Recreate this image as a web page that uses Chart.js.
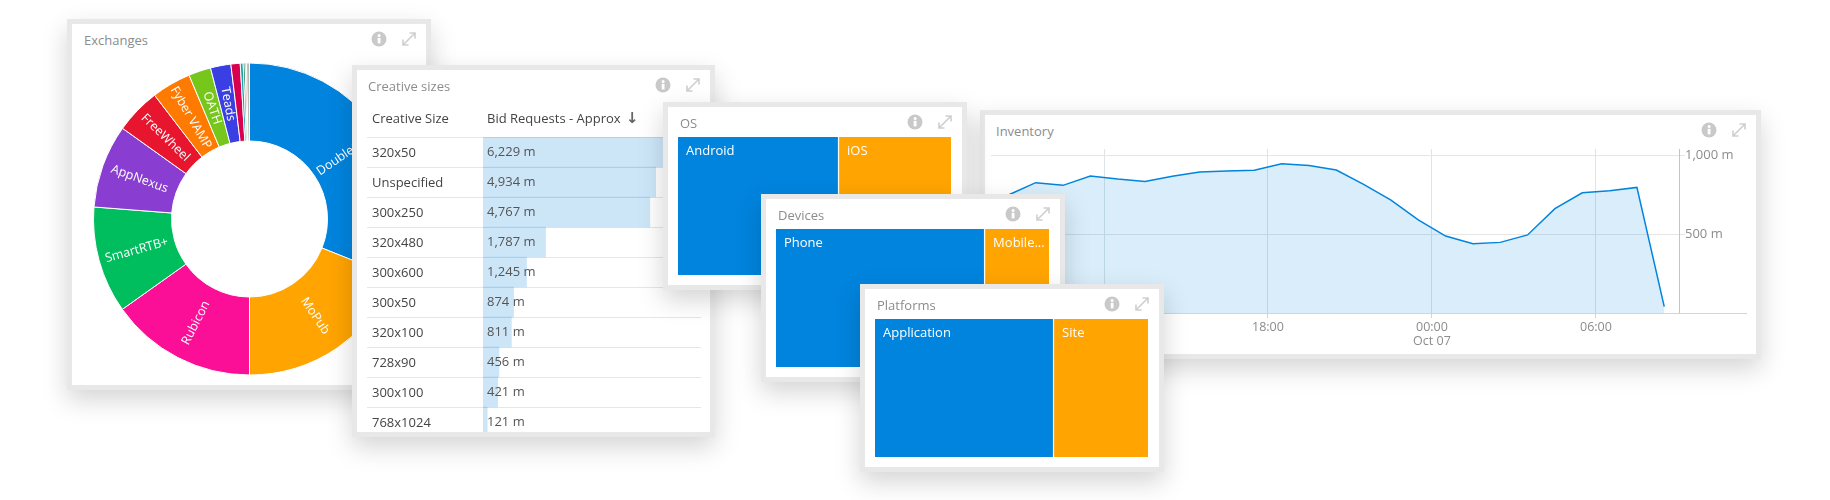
<!DOCTYPE html>
<html>
<head>
<meta charset="utf-8">
<title>Dashboard widgets</title>
<script src="https://cdn.jsdelivr.net/npm/chart.js"></script>
<style>
    html, body { margin: 0; padding: 0; background: #fff; }
    #page { position: relative; width: 1830px; height: 500px; overflow: hidden; font-family: "Open Sans", sans-serif; }
    .panel { position: absolute; box-sizing: border-box; background: #fff; border: 5px solid #e8e8e8; overflow: hidden; box-shadow: 0 10px 24px rgba(0, 0, 0, .17); }
    .panel canvas { position: absolute; }
    .title { position: absolute; left: 12px; top: 5.5px; font-size: 13px; line-height: 20px; color: #8c8c8c; }
    .info { position: absolute; right: 39px; top: 7px; }
    .expand { position: absolute; right: 10px; top: 8px; }
    .head { position: absolute; top: 38px; font-size: 13px; line-height: 20px; color: #444; white-space: nowrap; }
    .arrow { font-family: "DejaVu Sans", sans-serif; font-size: 15px; font-weight: bold; color: #666; margin-left: 2px; }

    #exchanges { left: 67px; top: 19px; width: 364px; height: 371px; z-index: 1; }
    #exchangesChart { left: 21px; top: 38px; }
    #creative { left: 352px; top: 65px; width: 363px; height: 372px; z-index: 2; }
    #creative .title { left: 11px; }
    #creativeChart { left: 0; top: 0; }
    #inventory { left: 980px; top: 110px; width: 781px; height: 249px; z-index: 3; }
    #inventory .title { left: 11px; }
    #inventoryChart { left: 0; top: 0; }
    #os { left: 663px; top: 102px; width: 304px; height: 188px; z-index: 4; }
    #devices { left: 761px; top: 194px; width: 304px; height: 188px; z-index: 5; }
    #platforms { left: 860px; top: 284px; width: 304px; height: 188px; z-index: 6; }
    .tree { left: 10px; top: 30px; }
</style>
</head>
<body>
<div id="page"></div>
<script>
// Exchanges donut
const exchangeNames = ['DoubleClick', 'MoPub', 'Rubicon', 'SmartRTB+', 'AppNexus', 'FreeWheel', 'Fyber VAMP', 'OATH', 'Teads', '', '', '', '', ''];
const exchangeValues = [31.06, 18.94, 15.17, 11.06, 8.64, 4.72, 4.08, 2.31, 2.11, 0.96, 0.3, 0.2, 0.15, 0.3];
const exchangeColors = ['#0084de', '#ffa400', '#fa0f96', '#00bd5e', '#8a3dd1', '#e8152f', '#ff7a00', '#76c61c', '#3a3fe3', '#d8004f', '#17a5a5', '#1b7f55', '#a5673f', '#b9b9b9'];

// Creative sizes table
const creativeSizes = ['320x50', 'Unspecified', '300x250', '320x480', '300x600', '300x50', '320x100', '728x90', '300x100', '768x1024'];
const bidRequests = [6229, 4934, 4767, 1787, 1245, 874, 811, 456, 421, 121];

// Treemaps
const osNames = ['Android', 'iOS'];
const osValues = [59, 41];
const deviceNames = ['Phone', 'Mobile...'];
const deviceValues = [76.6, 23.4];
const platformNames = ['Application', 'Site'];
const platformValues = [65.6, 34.4];

// Inventory line, hours counted from midnight of Oct 06
const inventoryHours = [8.5, 9.5, 10.5, 11.5, 12.5, 13.5, 14.5, 15.5, 16.5, 17.5, 18.5, 19.5, 20.5, 21.5, 22.5, 23.5, 24.5, 25.5, 26.5, 27.5, 28.5, 29.5, 30.5, 31.5, 32.5];
const inventoryValues = [747, 825, 808, 867, 848, 833, 865, 892, 899, 903, 945, 934, 905, 814, 715, 589, 487, 439, 447, 494, 660, 761, 774, 795, 40];
const inventoryTickLabels = { 12: '12:00', 18: '18:00', 24: ['00:00', 'Oct 07'], 30: '06:00' };
const inventoryYTicks = [0, 500, 1000];

const BLUE = '#0084de';
const ORANGE = '#ffa400';
const FONT = '"Open Sans", sans-serif';

Chart.defaults.font.family = FONT;
Chart.defaults.animation = false;
Chart.defaults.responsive = false;
Chart.defaults.plugins.legend.display = false;
Chart.defaults.plugins.tooltip.enabled = false;

const infoIcon = '<svg class="info" width="16" height="16" viewBox="0 0 16 16"><circle cx="8" cy="8" r="7.5" fill="#c9c9c9"/><rect x="6.7" y="6.8" width="2.8" height="5.6" fill="#fff"/><circle cx="8.1" cy="4.6" r="1.5" fill="#fff"/></svg>';
const expandIcon = '<svg class="expand" width="14" height="14" viewBox="0 0 14 14" fill="none" stroke="#cfcfcf" stroke-width="1.6"><path d="M1.5 12.5L12.5 1.5M7.5 1h5.5v5.5M1 7.5V13h5.5"/></svg>';

function addPanel(id, title, canvasId, width, height, canvasClass) {
    const page = document.getElementById('page');
    const panel = document.createElement('div');
    panel.id = id;
    panel.className = 'panel';
    panel.innerHTML = '<div class="title">' + title + '</div>' + infoIcon + expandIcon +
        '<canvas id="' + canvasId + '" width="' + width + '" height="' + height + '"' +
        (canvasClass ? ' class="' + canvasClass + '"' : '') + '></canvas>';
    page.appendChild(panel);
    return document.getElementById(canvasId);
}

// text along the radius of each slice
const sliceLabels = {
    id: 'sliceLabels',
    afterDatasetsDraw(chart) {
        const ctx = chart.ctx;
        chart.getDatasetMeta(0).data.forEach(function(arc, i) {
            if (!exchangeNames[i]) return;
            const mid = (arc.startAngle + arc.endAngle) / 2;
            const r = (arc.innerRadius + arc.outerRadius) / 2;
            ctx.save();
            ctx.translate(arc.x + Math.cos(mid) * r, arc.y + Math.sin(mid) * r);
            ctx.rotate(Math.cos(mid) >= 0 ? mid : mid + Math.PI);
            ctx.font = '12.5px ' + FONT;
            ctx.fillStyle = '#fff';
            ctx.textAlign = 'center';
            ctx.textBaseline = 'middle';
            ctx.fillText(exchangeNames[i], 0, 0);
            ctx.restore();
        });
    }
};

// value text at the start of each table row
const rowValues = {
    id: 'rowValues',
    afterDatasetsDraw(chart) {
        const ctx = chart.ctx;
        const x = chart.scales.x.getPixelForValue(0) + 4;
        ctx.save();
        ctx.font = '13px ' + FONT;
        ctx.fillStyle = '#555';
        ctx.textBaseline = 'middle';
        chart.getDatasetMeta(0).data.forEach(function(bar, i) {
            ctx.fillText(bidRequests[i].toLocaleString('en-US') + ' m', x, bar.y + 0.5);
        });
        ctx.restore();
    }
};

// x axis line runs on past the y axis
const baselineTail = {
    id: 'baselineTail',
    afterDraw(chart) {
        const area = chart.chartArea;
        const ctx = chart.ctx;
        ctx.save();
        ctx.strokeStyle = '#d4d4d4';
        ctx.beginPath();
        ctx.moveTo(area.right, area.bottom + 0.5);
        ctx.lineTo(area.right + 68, area.bottom + 0.5);
        ctx.stroke();
        ctx.restore();
    }
};

function drawTreemap(panelId, title, canvasId, names, values) {
    const canvas = addPanel(panelId, title, canvasId, 273, 138, 'tree');
    const colors = [BLUE, ORANGE];
    new Chart(canvas.getContext('2d'), {
        type: 'bar',
        data: {
            labels: [''],
            datasets: values.map(function(v, i) {
                return {
                    data: [v],
                    backgroundColor: colors[i],
                    borderColor: '#fff',
                    borderWidth: { right: i === 0 ? 1.5 : 0 },
                    borderSkipped: false,
                    barPercentage: 1,
                    categoryPercentage: 1
                };
            })
        },
        options: {
            indexAxis: 'y',
            layout: { padding: 0 },
            scales: {
                x: { display: false, stacked: true, min: 0, max: 100 },
                y: { display: false, stacked: true }
            }
        },
        plugins: [{
            id: 'treeLabels',
            afterDatasetsDraw(chart) {
                const ctx = chart.ctx;
                ctx.save();
                ctx.font = '13px ' + FONT;
                ctx.fillStyle = '#fff';
                ctx.textBaseline = 'middle';
                values.forEach(function(v, i) {
                    ctx.fillText(names[i], chart.scales.x.getPixelForValue(i === 0 ? 0 : values[0]) + 8, chart.chartArea.top + 14.5);
                });
                ctx.restore();
            }
        }]
    });
}

document.addEventListener('DOMContentLoaded', function() {
    // donut
    const exCanvas = addPanel('exchanges', 'Exchanges', 'exchangesChart', 313, 314);
    new Chart(exCanvas.getContext('2d'), {
        type: 'doughnut',
        data: {
            labels: exchangeNames,
            datasets: [{
                data: exchangeValues,
                backgroundColor: exchangeColors,
                borderColor: '#fff',
                borderWidth: 1
            }]
        },
        options: { cutout: '50%', layout: { padding: 0 } },
        plugins: [sliceLabels]
    });

    // table with bars
    const crCanvas = addPanel('creative', 'Creative sizes', 'creativeChart', 354, 367);
    const crPanel = document.getElementById('creative');
    crPanel.insertAdjacentHTML('beforeend',
        '<div class="head" style="left:15px">Creative Size</div>' +
        '<div class="head" style="left:130px">Bid Requests - Approx <span class="arrow">↓</span></div>');
    new Chart(crCanvas.getContext('2d'), {
        type: 'bar',
        data: {
            labels: creativeSizes,
            datasets: [{
                data: bidRequests,
                backgroundColor: 'rgba(0, 132, 222, 0.2)',
                barPercentage: 1,
                categoryPercentage: 1
            }]
        },
        options: {
            indexAxis: 'y',
            layout: { padding: { left: 15, right: 10, top: 67, bottom: 0 } },
            scales: {
                x: { display: false, min: 0, max: 6229 },
                y: {
                    offset: true,
                    border: { display: false },
                    grid: { offset: true, color: '#e6e6e6', tickLength: 116, tickColor: '#e6e6e6' },
                    ticks: { crossAlign: 'far', color: '#444', padding: 0, autoSkip: false, labelOffset: 1, font: { size: 13 } },
                    afterFit(scale) {
                        scale.width = 111;
                        scale.paddingTop = 0;
                        scale.paddingBottom = 0;
                    }
                }
            }
        },
        plugins: [rowValues]
    });

    // inventory line
    const invCanvas = addPanel('inventory', 'Inventory', 'inventoryChart', 772, 239);
    new Chart(invCanvas.getContext('2d'), {
        type: 'line',
        data: {
            datasets: [{
                data: inventoryHours.map(function(h, i) { return { x: h, y: inventoryValues[i] }; }),
                borderColor: BLUE,
                borderWidth: 1.5,
                backgroundColor: 'rgba(0, 132, 222, 0.15)',
                fill: 'origin',
                pointRadius: 0,
                tension: 0
            }]
        },
        options: {
            layout: { padding: { left: 6, right: 0, top: 34, bottom: 0 } },
            scales: {
                x: {
                    type: 'linear',
                    min: 7.865,
                    max: 33.04,
                    border: { color: '#d4d4d4' },
                    grid: { color: '#dfe4e8', tickColor: '#d4d4d4', tickLength: 5 },
                    ticks: {
                        stepSize: 6,
                        includeBounds: false,
                        autoSkip: false,
                        maxRotation: 0,
                        color: '#8c8c8c',
                        padding: 2,
                        font: { size: 12.5, lineHeight: 1.12 },
                        callback: function(value) { return inventoryTickLabels[value] || ''; }
                    },
                    afterFit(scale) { scale.height = 41; }
                },
                y: {
                    position: 'right',
                    min: 0,
                    max: 1038,
                    border: { color: '#c4c4c4' },
                    grid: { color: '#e6e6e6', tickColor: '#e6e6e6', tickLength: 6 },
                    afterBuildTicks(scale) {
                        scale.ticks = inventoryYTicks.map(function(v) { return { value: v }; });
                    },
                    ticks: {
                        color: '#8c8c8c',
                        padding: 0,
                        font: { size: 13 },
                        callback: function(value) { return value === 0 ? '' : value.toLocaleString('en-US') + ' m'; }
                    },
                    afterFit(scale) { scale.width = 78; }
                }
            }
        },
        plugins: [baselineTail]
    });

    drawTreemap('os', 'OS', 'osChart', osNames, osValues);
    drawTreemap('devices', 'Devices', 'devicesChart', deviceNames, deviceValues);
    drawTreemap('platforms', 'Platforms', 'platformsChart', platformNames, platformValues);
});
</script>
</body>
</html>
